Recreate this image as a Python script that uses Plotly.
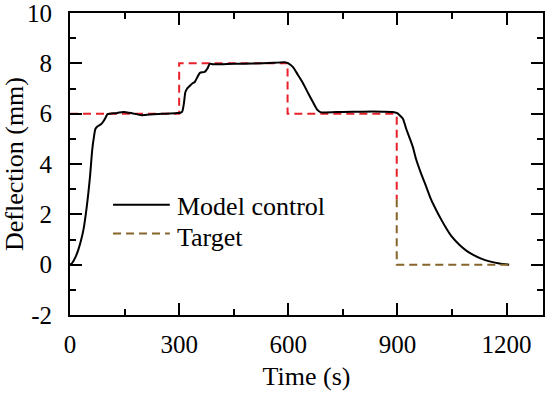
import plotly.graph_objects as go

# Model control response (time s, deflection mm)
model_t = [0, 5, 15, 23, 30, 37, 46, 55, 61, 66, 70, 76, 85, 92, 98, 103, 110, 130, 146, 170, 197, 230, 261, 290, 302,
           308, 313, 317, 322, 329, 336, 343, 350, 357, 370, 378, 384, 393, 450, 503, 560, 590, 600, 613, 626, 640,
           655, 668, 680, 688, 700, 750, 805, 860, 887, 898, 906, 915, 924, 933, 942, 951, 965, 979, 992, 1006,
           1020, 1034, 1050, 1070, 1090, 1107, 1130, 1153, 1180, 1207]
model_v = [0.0, 0.05, 0.3, 0.6, 0.95, 1.39, 2.3, 3.5, 4.55, 5.1, 5.4, 5.5, 5.58, 5.7, 5.85, 5.98, 6.0, 6.03, 6.07, 6.02,
           5.94, 5.98, 6.0, 6.02, 6.03, 6.07, 6.4, 6.85, 7.0, 7.1, 7.2, 7.26, 7.45, 7.62, 7.66, 7.8, 7.98, 7.96, 7.98,
           7.99, 8.02, 8.04, 8.0, 7.85, 7.55, 7.22, 6.8, 6.45, 6.15, 6.06, 6.05, 6.07, 6.08, 6.08, 6.07, 6.03, 5.94,
           5.8, 5.4, 5.05, 4.69, 4.2, 3.62, 3.1, 2.6, 2.18, 1.8, 1.45, 1.1, 0.79, 0.55, 0.4, 0.24, 0.13, 0.05, 0.0]

# Target (upper part drawn red, lower part brown as in the figure)
target_red_t = [0, 300, 300, 598, 598, 890, 898, 898]
target_red_v = [6, 6, 8, 8, 6, 6, 5.9, 2.6]
target_brown_t = [898, 898, 1207]
target_brown_v = [2.6, 0, 0]

x_ticks = [0, 300, 600, 900, 1200]
x_labels = ["0", "300", "600", "900", "1200"]
y_ticks = [-2, 0, 2, 4, 6, 8, 10]
y_labels = ["-2", "0", "2", "4", "6", "8", "10"]

legend_names = ["Model control", "Target"]

FONT = "Liberation Serif, Times New Roman, serif"
BLACK = "black"
RED = "#e8202a"
BROWN = "#86642a"
DASH = "8px,5px"
TICK_SIZE = 25
TEXT_SIZE = 26

fig = go.Figure()
fig.add_trace(go.Scatter(x=target_red_t, y=target_red_v, mode="lines", showlegend=False,
                         line=dict(color=RED, width=2, dash=DASH)))
fig.add_trace(go.Scatter(x=model_t, y=model_v, mode="lines", name=legend_names[0], showlegend=False,
                         line=dict(color=BLACK, width=2, shape="spline", smoothing=0.6)))
fig.add_trace(go.Scatter(x=target_brown_t, y=target_brown_v, mode="lines", name=legend_names[1], showlegend=False,
                         line=dict(color=BROWN, width=2, dash=DASH)))

# Legend drawn in paper coordinates (long sample lines as in the reference)
leg_x0, leg_x1, leg_tx = 0.091, 0.211, 0.222
leg_rows = [(0.365, 0.358, BLACK, "solid"), (0.270, 0.256, BROWN, DASH)]
for (ly, ty, col, dsh), name in zip(leg_rows, legend_names):
    fig.add_shape(type="line", xref="paper", yref="paper", x0=leg_x0, x1=leg_x1, y0=ly, y1=ly,
                  line=dict(color=col, width=2, dash=dsh))
    fig.add_annotation(xref="paper", yref="paper", x=leg_tx, y=ty, text=name, showarrow=False,
                       xanchor="left", yanchor="middle", font=dict(family=FONT, size=TEXT_SIZE, color="black"))

axis_common = dict(showline=True, linecolor="black", linewidth=2, mirror="ticks", ticks="inside",
                   tickcolor="black", tickwidth=2, ticklen=12, showgrid=False, zeroline=False,
                   automargin=False, ticklabeloverflow="allow",
                   tickfont=dict(family=FONT, size=TICK_SIZE, color="black"))

fig.update_layout(
    width=550, height=394,
    margin=dict(l=70, r=7, t=12.5, b=78.5),
    plot_bgcolor="white", paper_bgcolor="white",
    font=dict(family=FONT, size=TEXT_SIZE, color="black"),
    showlegend=False,
    xaxis=dict(range=[0, 1300], tickvals=x_ticks, ticktext=x_labels, ticklabelstandoff=6,
               minor=dict(dtick=150, ticks="inside", ticklen=6, tickwidth=2, tickcolor="black"),
               title=dict(text="Time (s)", font=dict(family=FONT, size=TEXT_SIZE), standoff=10),
               **axis_common),
    yaxis=dict(range=[-2, 10], tickvals=y_ticks, ticktext=y_labels, ticklabelstandoff=11,
               minor=dict(dtick=1, ticks="inside", ticklen=6, tickwidth=2, tickcolor="black"),
               title=dict(text="Deflection (mm)", font=dict(family=FONT, size=TEXT_SIZE), standoff=0),
               **axis_common),
)

# remove the default page margin so the 550x394 figure fills the window exactly
fig.write_html("out.html", config={"displayModeBar": False},
               post_script="document.body.style.margin='0';")
